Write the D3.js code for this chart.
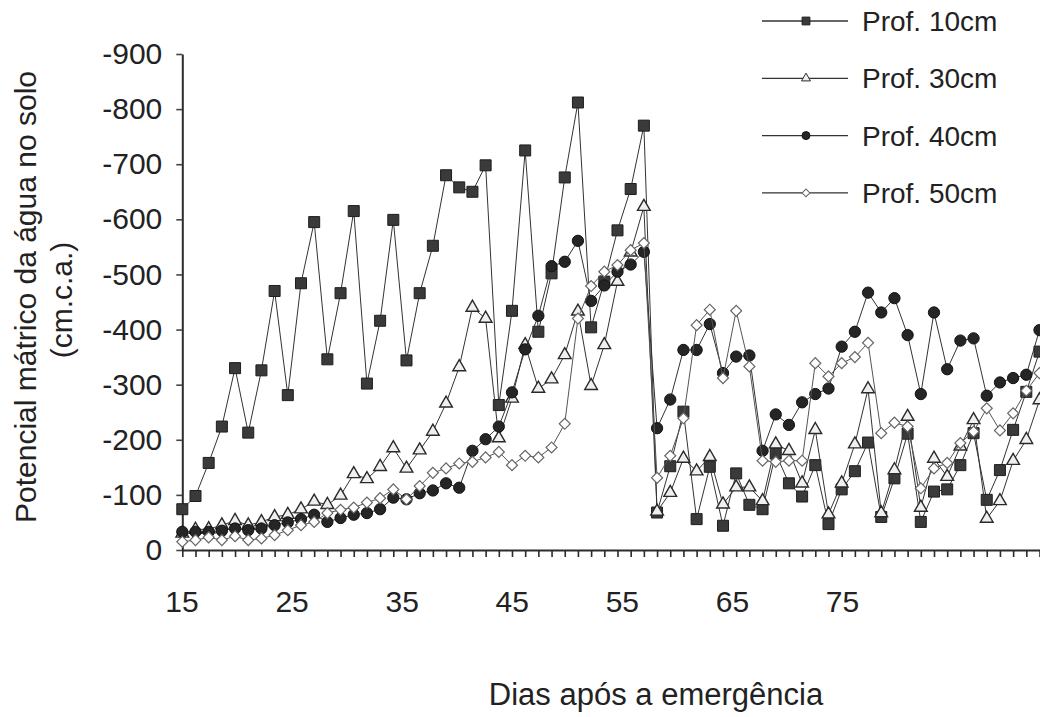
<!DOCTYPE html>
<html>
<head>
<meta charset="utf-8">
<script src="https://cdn.jsdelivr.net/npm/d3@7"></script>
<style>
  body{margin:0;background:#fff;}
  svg{display:block;font-family:"Liberation Sans",Arial,sans-serif;}
</style>
</head>
<body>
<div id="chart"></div>
<script>
// Potencial mátrico por profundidade, uma leitura por dia (índice de leitura no eixo x)
const dayLabels = [15, 25, 35, 45, 55, 65, 75];
const yTicks = [0, -100, -200, -300, -400, -500, -600, -700, -800, -900];

const prof10 = [-74,-98,-158,-224,-330,-213,-326,-470,-281,-484,-595,-346,-466,-615,-302,-416,
  -599,-344,-466,-552,-680,-658,-650,-698,-263,-434,-725,-396,-502,-676,-812,-404,-487,-580,-655,-770,
  -68,-152,-251,-56,-151,-44,-139,-82,-74,-175,-121,-97,-154,-47,-110,-143,-195,-60,-130,-211,
  -51,-106,-110,-154,-212,-91,-145,-218,-287,-360];
const prof30 = [-30,-37,-38,-45,-53,-45,-51,-60,-64,-74,-88,-82,-99,-138,-129,-151,
  -185,-148,-181,-215,-266,-332,-440,-420,-203,-275,-372,-293,-310,-354,-433,-298,-372,-487,-540,-623,
  -70,-104,-166,-143,-169,-83,-114,-114,-89,-192,-180,-121,-218,-65,-121,-192,-292,-67,-145,-242,
  -77,-166,-133,-188,-236,-57,-89,-162,-200,-272];
const prof40 = [-33,-33,-33,-35,-39,-36,-39,-45,-50,-56,-64,-51,-58,-64,-67,-74,
  -95,-92,-103,-108,-121,-113,-180,-201,-224,-286,-364,-425,-515,-523,-561,-452,-480,-505,-518,-541,
  -221,-273,-363,-363,-410,-321,-351,-353,-180,-246,-227,-268,-283,-293,-369,-396,-467,-431,-457,-390,
  -283,-431,-328,-380,-384,-280,-304,-312,-318,-399];
const prof50 = [-15,-18,-23,-18,-25,-18,-21,-27,-36,-45,-51,-67,-73,-77,-86,-94,
  -110,-92,-116,-140,-148,-157,-160,-168,-178,-154,-171,-168,-186,-229,-420,-479,-505,-517,-544,-557,
  -131,-171,-239,-408,-436,-312,-434,-333,-162,-160,-162,-162,-339,-315,-339,-350,-376,-212,-231,-224,
  -112,-148,-158,-194,-215,-257,-217,-248,-289,-321];

const series = [
  {name:"Prof. 10cm", values:prof10, shape:"square"},
  {name:"Prof. 30cm", values:prof30, shape:"triangle"},
  {name:"Prof. 40cm", values:prof40, shape:"circle"},
  {name:"Prof. 50cm", values:prof50, shape:"diamond"}
];

const W = 1040, H = 717;
const n = prof10.length;
const x = d3.scaleLinear().domain([0, n-1]).range([182.3, 1039.5]);
const xDay = d3.scaleLinear().domain([15, 75]).range([181.5, 842]);
const y = d3.scaleLinear().domain([0, -900]).range([550, 54]);

const svg = d3.select("#chart").append("svg").attr("width", W).attr("height", H);
const ink = "#222";
const axisInk = "#2b2b2b";

// Eixo y
const gy = svg.append("g").attr("transform", `translate(${x(0)},0)`)
  .call(d3.axisLeft(y).tickValues(yTicks).tickSize(6).tickSizeOuter(0).tickPadding(14).tickFormat(d=>String(d)));
gy.select(".domain").attr("stroke", axisInk).attr("stroke-width", 2);
gy.selectAll(".tick line").attr("stroke", "#444").attr("stroke-width", 1.6);
gy.selectAll("text").attr("font-size", 30).attr("fill", ink).attr("font-family", "Liberation Sans, Arial, sans-serif");

// Eixo x: marca a cada leitura
const gx = svg.append("g").attr("transform", `translate(0,${y(0)})`)
  .call(d3.axisBottom(x).tickValues(d3.range(0, n)).tickSize(7).tickSizeOuter(0).tickFormat(() => ""));
gx.select(".domain").attr("stroke", axisInk).attr("stroke-width", 2);
gx.selectAll(".tick line").attr("stroke", axisInk).attr("stroke-width", 1.6);

// Rótulos dos dias
const gl = svg.append("g").attr("transform", `translate(0,${y(0)})`)
  .call(d3.axisBottom(xDay).tickValues(dayLabels).tickSize(0).tickPadding(41));
gl.select(".domain").remove();
gl.selectAll("text").attr("font-size", 30).attr("fill", ink).attr("font-family", "Liberation Sans, Arial, sans-serif");

// Títulos
svg.append("text").attr("x", 656).attr("y", 705).attr("text-anchor", "middle")
  .attr("font-size", 31).attr("fill", ink).text("Dias após a emergência");
svg.append("text").attr("transform", "translate(36,297) rotate(-90)").attr("text-anchor", "middle")
  .attr("font-size", 30).attr("fill", ink).text("Potencial mátrico da água no solo");
svg.append("text").attr("transform", "translate(72,300) rotate(-90)").attr("text-anchor", "middle")
  .attr("font-size", 30).attr("fill", ink).text("(cm.c.a.)");

// Marcadores
const sym = {
  square:   {type:d3.symbolSquare,   size:121, fill:"#3a3a3a", stroke:"#1e1e1e", sw:1,   rot:0},
  triangle: {type:d3.symbolTriangle, size:70,  fill:"#efefef", stroke:"#2a2a2a", sw:1.4, rot:0},
  circle:   {type:d3.symbolCircle,   size:100, fill:"#252525", stroke:"#111",    sw:1,   rot:0},
  diamond:  {type:d3.symbolSquare,   size:60,  fill:"#ffffff", stroke:"#666",    sw:1.2, rot:45}
};
const line = d3.line().x((d,i)=>x(i)).y(d=>y(d));

series.forEach(s=>{
  const st = sym[s.shape];
  const g = svg.append("g");
  g.append("path").datum(s.values).attr("d", line)
    .attr("fill", "none").attr("stroke", s.shape==="diamond" ? "#555" : "#333").attr("stroke-width", 1);
  g.selectAll("path.pt").data(s.values).join("path").attr("class", "pt")
    .attr("transform", (d,i)=>`translate(${x(i)},${y(d)}) rotate(${st.rot})`)
    .attr("d", d3.symbol().type(st.type).size(st.size))
    .attr("fill", st.fill).attr("stroke", st.stroke).attr("stroke-width", st.sw);
});

// Legenda
const leg = svg.append("g").selectAll("g").data(series).join("g")
  .attr("transform", (d,i)=>`translate(762,${21 + i*57.3})`);
leg.append("line").attr("x1", 0).attr("x2", 86).attr("stroke", "#333").attr("stroke-width", 1.3);
leg.append("path")
  .attr("transform", d=>`translate(44,0) rotate(${sym[d.shape].rot})`)
  .attr("d", d=>d3.symbol().type(sym[d.shape].type).size(sym[d.shape].size*0.5)())
  .attr("fill", d=>sym[d.shape].fill).attr("stroke", d=>sym[d.shape].stroke).attr("stroke-width", 1);
leg.append("text").attr("x", 100).attr("y", 10).attr("font-size", 28).attr("fill", ink).text(d=>d.name);
</script>
</body>
</html>
